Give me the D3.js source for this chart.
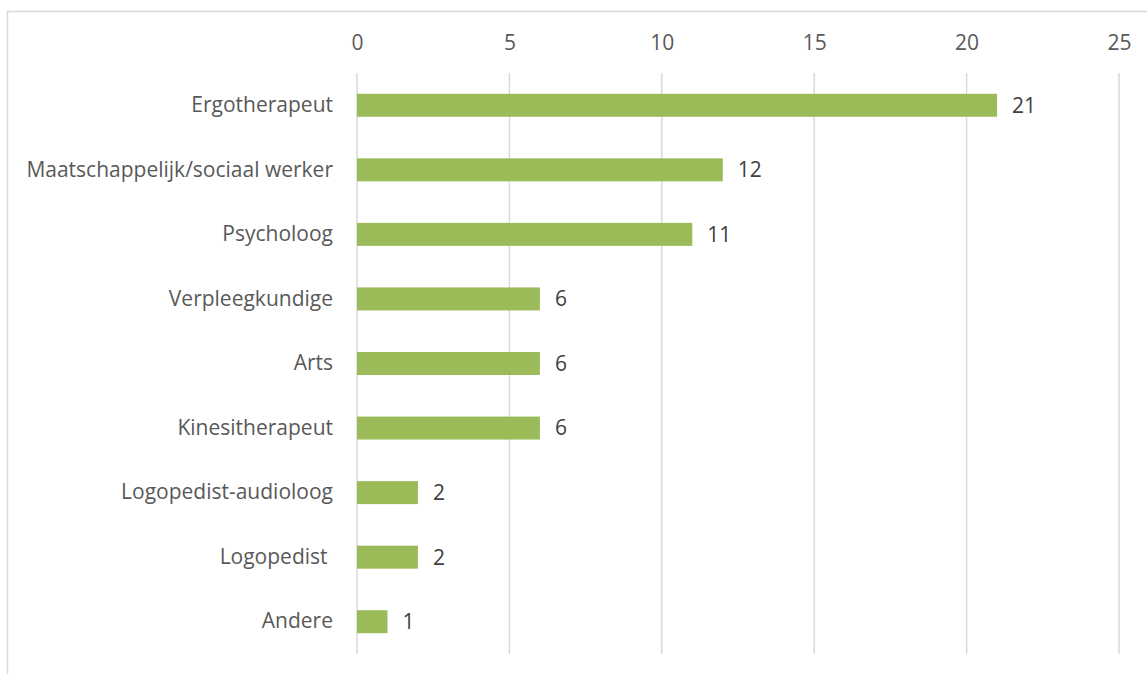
<!DOCTYPE html>
<html>
<head>
<meta charset="utf-8">
<script src="https://cdn.jsdelivr.net/npm/d3@7"></script>
<style>
  html, body { margin: 0; padding: 0; background: #fff; }
  svg { display: block; }
  text { font-family: "Open Sans", "Noto Sans", sans-serif; white-space: pre; }
</style>
</head>
<body>
<svg id="chart" width="1147" height="674"></svg>
<script>
// Beroepsgroepen en aantallen
const categories = [
  "Ergotherapeut",
  "Maatschappelijk/sociaal werker",
  "Psycholoog",
  "Verpleegkundige",
  "Arts",
  "Kinesitherapeut",
  "Logopedist-audioloog",
  "Logopedist ",
  "Andere"
];
const values = [21, 12, 11, 6, 6, 6, 2, 2, 1];
const tickValues = [0, 5, 10, 15, 20, 25];

const svg = d3.select("#chart");
const W = 1147, H = 674;
const plot = { left: 357, right: 1119, top: 73, bottom: 654 };
const fontSize = 21;

// outer frame of the chart area
svg.append("rect")
  .attr("x", 7.5).attr("y", 11.5)
  .attr("width", W + 20).attr("height", H + 20)
  .attr("fill", "#fff")
  .attr("stroke", "#d9d9d9")
  .attr("stroke-width", 1.5);

const x = d3.scaleLinear().domain([0, 25]).range([plot.left, plot.right]);
const y = d3.scaleBand()
  .domain(categories)
  .range([plot.top, plot.bottom])
  .paddingInner(0.644)
  .paddingOuter(0.322);

// vertical gridlines
svg.append("g")
  .selectAll("line")
  .data(tickValues)
  .join("line")
  .attr("x1", d => x(d)).attr("x2", d => x(d))
  .attr("y1", plot.top).attr("y2", plot.bottom)
  .attr("stroke", "#d9d9d9")
  .attr("stroke-width", 1.5);

// top axis labels
const xAxis = d3.axisTop(x).tickValues(tickValues).tickSize(0).tickPadding(0);
const gx = svg.append("g")
  .attr("transform", `translate(0, 50)`)
  .call(xAxis);
gx.select(".domain").remove();
gx.selectAll("text")
  .attr("font-size", fontSize)
  .attr("fill", "#595959")
  .attr("dy", "0");

// category labels
const yAxis = d3.axisLeft(y).tickSize(0).tickPadding(24);
const gy = svg.append("g")
  .attr("transform", `translate(${plot.left}, 0)`)
  .call(yAxis);
gy.select(".domain").remove();
gy.selectAll("text")
  .attr("font-size", fontSize)
  .attr("fill", "#595959");

// bars
svg.append("g")
  .selectAll("rect")
  .data(categories)
  .join("rect")
  .attr("x", x(0))
  .attr("y", d => y(d))
  .attr("width", (d, i) => x(values[i]) - x(0))
  .attr("height", y.bandwidth())
  .attr("fill", "#9bbb59");

// value labels
svg.append("g")
  .selectAll("text")
  .data(categories)
  .join("text")
  .attr("x", (d, i) => x(values[i]) + 15)
  .attr("y", d => y(d) + y.bandwidth() / 2)
  .attr("dy", "0.35em")
  .attr("font-size", fontSize)
  .attr("fill", "#404040")
  .text((d, i) => values[i]);
</script>
</body>
</html>
